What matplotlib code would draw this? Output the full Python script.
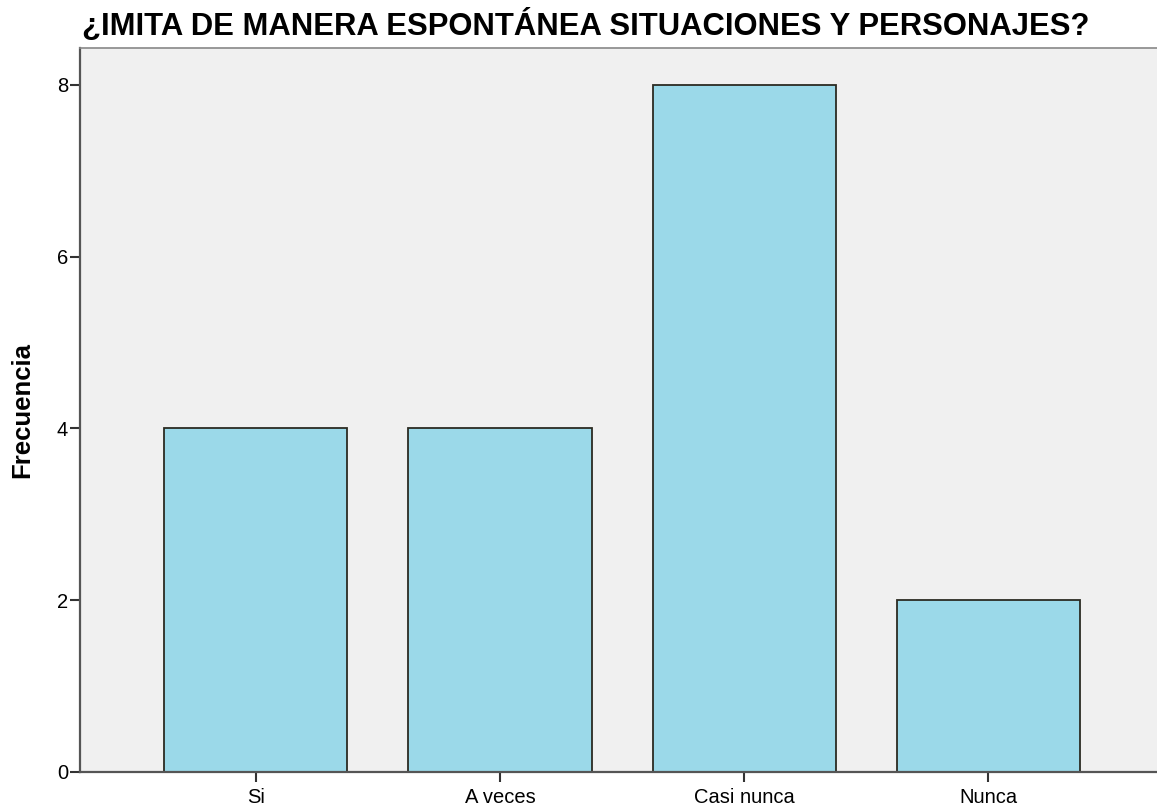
import matplotlib.pyplot as plt
import numpy as np

# === 数据 ===
categorias = ["Si", "A veces", "Casi nunca", "Nunca"]
frecuencias = [4, 4, 8, 2]
yticks = [0, 2, 4, 6, 8]

plt.rcParams['font.family'] = ['Liberation Sans', 'DejaVu Sans']

fig = plt.figure(figsize=(11.57, 8.08), dpi=100)
ax = fig.add_axes([0.0691, 0.0446, 0.9309, 0.896])
ax.set_facecolor('#F0F0F0')

x = np.arange(len(categorias))
ax.bar(x, frecuencias, width=0.75, color='#9BD9E9', edgecolor='#2b2b22', linewidth=1.3, zorder=2)

ax.set_xlim(-0.72, 3.69)
ax.set_ylim(0, 8.43)
ax.set_xticks(x)
ax.set_xticklabels(categorias, fontsize=14.5)
ax.set_yticks(yticks)
ax.set_yticklabels([str(v) for v in yticks], fontsize=14.5)
ax.tick_params(axis='both', direction='out', length=7.5, width=1.5, color='#333333', pad=1)
ax.tick_params(axis='x', pad=4)

for side in ['left', 'bottom']:
    ax.spines[side].set_color('#555555')
    ax.spines[side].set_linewidth(1.6)
ax.spines['top'].set_color('#888888')
ax.spines['top'].set_linewidth(1.2)
ax.spines['right'].set_visible(False)

# 纵轴标题
fig.text(0.019, 0.4926, "Frecuencia", fontsize=18.5, fontweight='bold',
         rotation=90, ha='center', va='center')
# 图标题
fig.text(0.071, 0.9567, "¿IMITA DE MANERA ESPONTÁNEA SITUACIONES Y PERSONAJES?",
         fontsize=22.3, fontweight='bold', ha='left', va='baseline')

plt.savefig("out.png", dpi=100)
